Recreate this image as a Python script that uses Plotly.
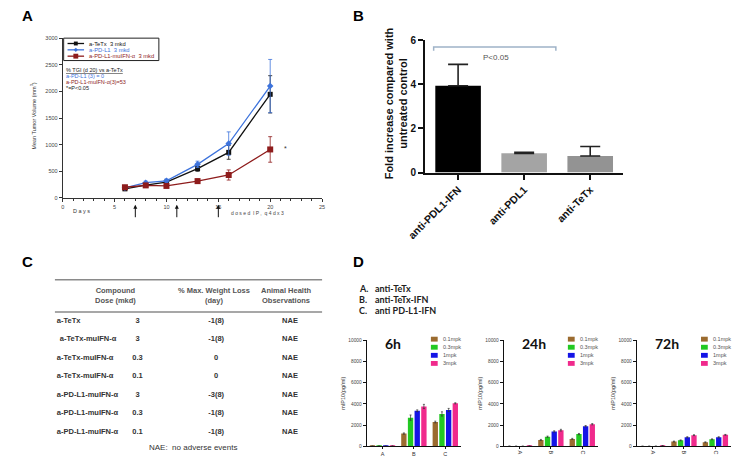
import plotly.graph_objects as go

W, H = 737, 464

# ---------------- Panel A data ----------------
days = [6, 8, 10, 13, 16, 20]
tetx_vol = [170, 240, 295, 550, 855, 1945]
tetx_err = [20, 25, 30, 50, 130, 350]
pdl1_vol = [190, 285, 320, 630, 1020, 2100]
pdl1_err = [20, 30, 35, 60, 220, 500]
ifn_vol = [200, 235, 225, 315, 430, 910]
ifn_err = [25, 25, 30, 40, 95, 240]
dose_days = [7, 11, 15]
a_xticks = [0, 5, 10, 15, 20, 25]
a_yticks = [0, 500, 1000, 1500, 2000, 2500, 3000]
a_series = ["a-TeTx  3 mkd", "a-PD-L1  3 mkd", "a-PD-L1-muIFN-α  3 mkd"]

# ---------------- Panel B data ----------------
b_groups = ["anti-PDL1-IFN", "anti-PDL1", "anti-TeTx"]
b_fold = [3.93, 0.87, 0.75]
b_err = [0.97, 0.05, 0.43]
b_yticks = [0, 2, 4, 6]

# ---------------- Panel C data ----------------
c_compound = ["a-TeTx", "a-TeTx-muIFN-α", "a-TeTx-muIFN-α", "a-TeTx-muIFN-α",
              "a-PD-L1-muIFN-α", "a-PD-L1-muIFN-α", "a-PD-L1-muIFN-α"]
c_dose = ["3", "3", "0.3", "0.1", "3", "0.3", "0.1"]
c_weight_loss = ["-1(8)", "-1(8)", "0", "0", "-3(8)", "-1(8)", "-1(8)"]
c_obs = ["NAE", "NAE", "NAE", "NAE", "NAE", "NAE", "NAE"]
c_headers = ["Compound<br>Dose (mkd)", "% Max. Weight Loss<br>(day)", "Animal Health<br>Observations"]

# ---------------- Panel D data ----------------
d_groups = ["A", "B", "C"]
d_doses = ["0.1mpk", "0.3mpk", "1mpk", "3mpk"]
d_times = ["6h", "24h", "72h"]
ip10_6h = [[20, 1200, 2290], [20, 2700, 3050], [20, 3350, 3420], [30, 3750, 4050]]
ip10_6h_err = [[5, 60, 80], [5, 250, 200], [5, 80, 150], [5, 200, 50]]
ip10_24h = [[15, 600, 700], [10, 900, 1150], [10, 1400, 1900], [30, 1520, 2080]]
ip10_24h_err = [[5, 50, 50], [5, 60, 60], [5, 60, 60], [5, 80, 60]]
ip10_72h = [[10, 450, 380], [10, 560, 660], [10, 850, 850], [60, 1050, 1080]]
ip10_72h_err = [[3, 40, 40], [3, 40, 40], [3, 50, 50], [10, 40, 40]]
d_yticks = [0, 2000, 4000, 6000, 8000, 10000]
d_legend_lines = [("A.", "anti-TeTx"), ("B.", "anti-TeTx-IFN"), ("C.", "anti PD-L1-IFN")]

# ---------------- styles ----------------
ARIAL = "Liberation Sans"
CAL = "Lato"
BLACK = "#111111"
BLUE = "#3d73dc"
DRED = "#8e1c1c"
D_COLORS = ["#9b6b2f", "#22c922", "#1414e6", "#f02a8c"]
B_COLORS = ["#000000", "#a4a4a4", "#939393"]


def px(x):
    return x / W


def py(y):
    return 1 - y / H


fig = go.Figure()

# ---- Panel A traces ----
for vals, errs, col, sym, size in [
    (tetx_vol, tetx_err, BLACK, "square", 5),
    (pdl1_vol, pdl1_err, BLUE, "diamond", 5),
    (ifn_vol, ifn_err, DRED, "square", 6),
]:
    fig.add_trace(go.Scatter(
        x=days, y=vals, mode="lines+markers", xaxis="x", yaxis="y",
        line=dict(color=col, width=1.3),
        marker=dict(symbol=sym, size=size, color=col),
        error_y=dict(type="data", array=errs, color=col, thickness=0.8, width=2),
        hoverinfo="skip", cliponaxis=False,
    ))

# ---- Panel B trace ----
fig.add_trace(go.Bar(
    x=[0, 1, 2], y=b_fold, xaxis="x2", yaxis="y2", width=0.69,
    marker=dict(color=B_COLORS, line=dict(width=0)),
    error_y=dict(type="data", array=b_err, arrayminus=[0, 0, 0], symmetric=False,
                 color="#222222", thickness=1.6, width=10),
    hoverinfo="skip",
))

# ---- Panel D traces ----
d_sets = [(ip10_6h, ip10_6h_err, "x3", "y3"),
          (ip10_24h, ip10_24h_err, "x4", "y4"),
          (ip10_72h, ip10_72h_err, "x5", "y5")]
for data, errs, xa, ya in d_sets:
    for k, dose in enumerate(d_doses):
        fig.add_trace(go.Bar(
            x=[0, 1, 2], y=data[k], name=dose, xaxis=xa, yaxis=ya,
            marker=dict(color=D_COLORS[k], line=dict(width=0)),
            error_y=dict(type="data", array=errs[k], color="#333333", thickness=0.7, width=1),
            hoverinfo="skip",
        ))

# ---- Panel C table (text through hidden axes; x in px, y in row index) ----
ROW0, ROWSTEP = 323, 19.05
rows = list(range(len(c_compound)))
name_x = [40, 43, 40, 40, 40, 40, 40]
fig.add_trace(go.Scatter(
    x=name_x, y=rows, mode="text", text=c_compound, textposition="middle right",
    textfont=dict(family=ARIAL, size=7.5, color="#333333", weight="bold"),
    xaxis="x6", yaxis="y6", hoverinfo="skip", cliponaxis=False))
for colx, vals in [(123, c_dose), (204, c_weight_loss), (280, c_obs)]:
    fig.add_trace(go.Scatter(
        x=[colx] * len(vals), y=rows, mode="text", text=vals, textposition="middle center",
        textfont=dict(family=ARIAL, size=7.5, color="#333333", weight="bold"),
        xaxis="x6", yaxis="y6", hoverinfo="skip", cliponaxis=False))

axis_common = dict(showgrid=False, zeroline=False, showline=True, ticks="outside")

fig.update_layout(
    width=W, height=H, margin=dict(l=0, r=0, t=0, b=0),
    paper_bgcolor="white", plot_bgcolor="rgba(0,0,0,0)",
    showlegend=False, barmode="group", bargap=0.15, bargroupgap=0.2,
    font=dict(family=ARIAL, color="#222222"),
    # Panel A
    xaxis=dict(axis_common, domain=[px(46), px(313)], range=[0, 25], anchor="y",
               tickvals=a_xticks, linecolor="#333", linewidth=1, ticklen=3, tickcolor="#333",
               tickfont=dict(size=5.5, color="#444"),
               minor=dict(dtick=1, ticks="outside", ticklen=2, tickcolor="#333")),
    yaxis=dict(axis_common, domain=[py(197), py(33)], range=[0, 3000], anchor="x",
               tickvals=a_yticks, linecolor="#333", linewidth=1, ticklen=3, tickcolor="#333",
               tickfont=dict(size=5.5, color="#444")),
    # Panel B
    xaxis2=dict(axis_common, domain=[px(419), px(623)], range=[-0.5, 2.5], anchor="y2",
                tickvals=[0, 1, 2], ticktext=b_groups, tickangle=-45,
                linecolor="#111", linewidth=2, ticklen=5, tickwidth=2, tickcolor="#111",
                tickfont=dict(size=10.5, color="#111", weight="bold")),
    yaxis2=dict(axis_common, domain=[py(171), py(35)], range=[0, 6], anchor="x2",
                tickvals=b_yticks, linecolor="#111", linewidth=2, ticklen=5, tickwidth=2,
                tickcolor="#111", tickfont=dict(size=10, color="#111", weight="bold")),
    # Panel C hidden axes
    xaxis6=dict(domain=[0, px(370)], range=[0, 370], visible=False, anchor="y6"),
    yaxis6=dict(domain=[0, py(270)], range=[(464 - ROW0) / ROWSTEP, (270 - ROW0) / ROWSTEP],
                visible=False, anchor="x6"),
)

d_domains = [(359, 456), (500, 597), (637, 734)]
for i, (x0, x1) in enumerate(d_domains):
    n = i + 3
    fig.update_layout({
        f"xaxis{n}": dict(axis_common, domain=[px(x0), px(x1)], range=[-0.5, 2.5], anchor=f"y{n}",
                          tickvals=[0, 1, 2], ticktext=d_groups, tickangle=0 if i == 0 else 90,
                          linecolor="#111", linewidth=1.2, ticklen=2, tickcolor="#111",
                          tickfont=dict(size=5.5, color="#333")),
        f"yaxis{n}": dict(axis_common, domain=[py(452), py(343)], range=[0, 10000], anchor=f"x{n}",
                          tickvals=d_yticks, ticktext=[str(v) for v in d_yticks],
                          linecolor="#111", linewidth=1.2, ticklen=3,
                          tickcolor="#111", tickfont=dict(size=4.8, color="#444"),
                          title=dict(text="mIP10(pg/ml)", font=dict(size=5.5, color="#333"),
                                     standoff=2)),
    })

ann = []
shapes = []


def txt(x, y, text, size, xanchor="left", color="#222", family=ARIAL, weight="normal", **kw):
    ann.append(dict(x=px(x), y=py(y), xref="paper", yref="paper", text=text, showarrow=False,
                    xanchor=xanchor, yanchor="middle",
                    font=dict(size=size, color=color, family=family, weight=weight), **kw))


# panel labels
txt(2, 10, "A", 15, weight="bold", color="#000")
txt(343, 10, "B", 15, weight="bold", color="#000")
txt(2, 262, "C", 15, weight="bold", color="#000")
txt(343, 262, "D", 15, weight="bold", color="#000")

# ---- Panel A extras ----
txt(16, 113, "Mean Tumor Volume (mm<sup>3</sup>)", 5.5, xanchor="center", textangle=-90, color="#333")
txt(55, 210, "D a y s", 5.5, color="#333")
txt(217, 212, "d o s e d  I P ,  q 4 d x 3", 5, color="#444")
for d in dose_days:
    ann.append(dict(x=d, y=py(204), xref="x", yref="paper", text="", showarrow=True,
                    ax=0, ay=14, arrowhead=2, arrowsize=0.8, arrowwidth=1, arrowcolor="#111"))
ann.append(dict(x=21.1, y=ifn_vol[-1] + 20, xref="x", yref="y", text="*", showarrow=False,
                xanchor="left", font=dict(size=7, color="#333")))

# legend box A
shapes.append(dict(type="rect", xref="paper", yref="paper", x0=px(47), x1=px(145),
                   y0=py(56), y1=py(33), line=dict(color="#222", width=1)))
leg_cols = [BLACK, BLUE, DRED]
for k, (name, col) in enumerate(zip(a_series, leg_cols)):
    yy = 38.5 + 6.5 * k
    shapes.append(dict(type="line", xref="paper", yref="paper", x0=px(51), x1=px(68),
                       y0=py(yy), y1=py(yy), line=dict(color=col, width=1.3)))
    if k == 1:
        shapes.append(dict(type="path", xref="paper", yref="paper",
                           path=f"M {px(59.5)},{py(yy - 2.2)} L {px(61.7)},{py(yy)} L {px(59.5)},{py(yy + 2.2)} L {px(57.3)},{py(yy)} Z",
                           fillcolor=col, line=dict(width=0)))
    else:
        h = 2.0 if k == 0 else 2.5
        shapes.append(dict(type="rect", xref="paper", yref="paper", x0=px(59.5 - h), x1=px(59.5 + h),
                           y0=py(yy + h), y1=py(yy - h), fillcolor=col, line=dict(width=0)))
    txt(71, yy, name, 5.8, color=col)

txt(47, 66, "<u>% TGI (d 20) vs a-TeTx</u>", 5.5, color="#222")
txt(47, 72, "a-PD-L1 (3) = 0", 5.5, color=BLUE)
txt(47, 78, "a-PD-L1-muIFN-α(3)=53", 5.5, color=DRED)
txt(47, 84, "*=P<0.05", 5.5, color="#222")

# ---- Panel B extras ----
txt(389, 100, "Fold increase compared with<br>untreated control", 11, xanchor="center",
    textangle=-90, weight="bold", color="#111")
shapes.append(dict(type="path", xref="x2", yref="paper",
                   path=f"M -0.37,{py(46)} L -0.37,{py(42)} L 1.48,{py(42)} L 1.48,{py(46)}",
                   line=dict(color="#9fb3c8", width=1.5)))
txt(492, 53, "P<0.05", 8, xanchor="center", color="#555")

# ---- Panel C extras ----
for yy in (281, 314):
    shapes.append(dict(type="line", xref="paper", yref="paper", x0=px(38), x1=px(313),
                       y0=py(yy), y1=py(yy), line=dict(color="#8a8a8a", width=1.5)))
for cx, head in zip([100, 202, 276], c_headers):
    txt(cx, 297.5, head, 7.5, xanchor="center", weight="bold", color="#555")
txt(133, 453, "NAE:  no adverse events", 8, color="#333")

# ---- Panel D extras ----
for k, (letter, name) in enumerate(d_legend_lines):
    yy = 290 + 11.5 * k
    txt(349, yy, letter, 9, family=CAL, weight="bold", color="#222")
    txt(365, yy, name, 9, family=CAL, weight="bold", color="#222")

for i, (x0, x1) in enumerate(d_domains):
    txt(x0 + 17, 346, d_times[i], 14, family=CAL, weight="bold", color="#111")
    lx = x0 + 66
    for k, dose in enumerate(d_doses):
        yy = 342 + 8.3 * k
        shapes.append(dict(type="rect", xref="paper", yref="paper", x0=px(lx), x1=px(lx + 7),
                           y0=py(yy + 2.5), y1=py(yy - 2.5), fillcolor=D_COLORS[k], line=dict(width=0)))
        txt(lx + 10, yy, dose, 5.5, color="#555")

fig.update_layout(annotations=ann, shapes=shapes)
fig.write_html("out.html", config={"displayModeBar": False},
               post_script="document.body.style.margin='0px';document.body.style.overflow='hidden';")
